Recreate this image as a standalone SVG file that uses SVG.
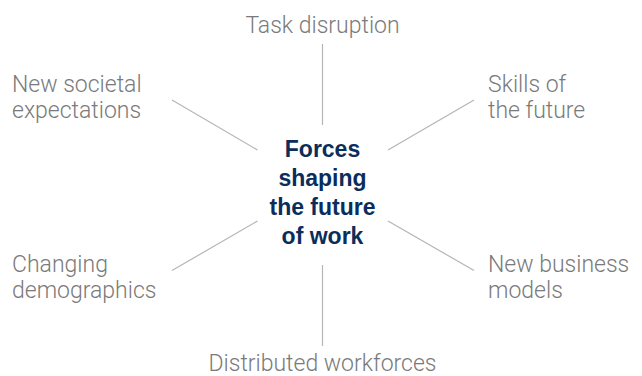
<svg xmlns="http://www.w3.org/2000/svg" width="642" height="376" viewBox="0 0 642 376">
<style>
.lbl{font-family:Roboto,"Liberation Sans",Arial,sans-serif;font-size:23px;font-weight:300;fill:#7a7a7a}
.ctr{font-family:"Liberation Sans",Arial,sans-serif;font-size:23px;font-weight:bold;fill:#0b2d5b;text-anchor:middle}
.con{stroke:#b5b5b5;stroke-width:1.2;fill:none}
</style>
<rect width="642" height="376" fill="#ffffff"/>
<g id="connectors">
<line class="con" x1="322.5" y1="44" x2="322.5" y2="125"/>
<line class="con" x1="322.5" y1="265" x2="322.5" y2="346"/>
<line class="con" x1="172" y1="100" x2="257.5" y2="150"/>
<line class="con" x1="388" y1="150" x2="474" y2="100"/>
<line class="con" x1="172" y1="270.5" x2="257.5" y2="221"/>
<line class="con" x1="388" y1="221" x2="474" y2="270.5"/>
</g>
<g id="center">
<text class="ctr" x="322.5" y="157">Forces</text>
<text class="ctr" x="322.5" y="186">shaping</text>
<text class="ctr" x="322.5" y="215">the future</text>
<text class="ctr" x="322.5" y="244">of work</text>
</g>
<g id="task-disruption"><text class="lbl" x="322.5" y="33" text-anchor="middle">Task disruption</text></g>
<g id="new-societal-expectations"><text class="lbl" x="12" y="92">New societal</text><text class="lbl" x="12" y="118">expectations</text></g>
<g id="skills-of-the-future"><text class="lbl" x="488" y="92">Skills of</text><text class="lbl" x="488" y="118">the future</text></g>
<g id="changing-demographics"><text class="lbl" x="12" y="272">Changing</text><text class="lbl" x="12" y="298">demographics</text></g>
<g id="new-business-models"><text class="lbl" x="488" y="272">New business</text><text class="lbl" x="488" y="298">models</text></g>
<g id="distributed-workforces"><text class="lbl" x="322.5" y="371" text-anchor="middle">Distributed workforces</text></g>
</svg>
